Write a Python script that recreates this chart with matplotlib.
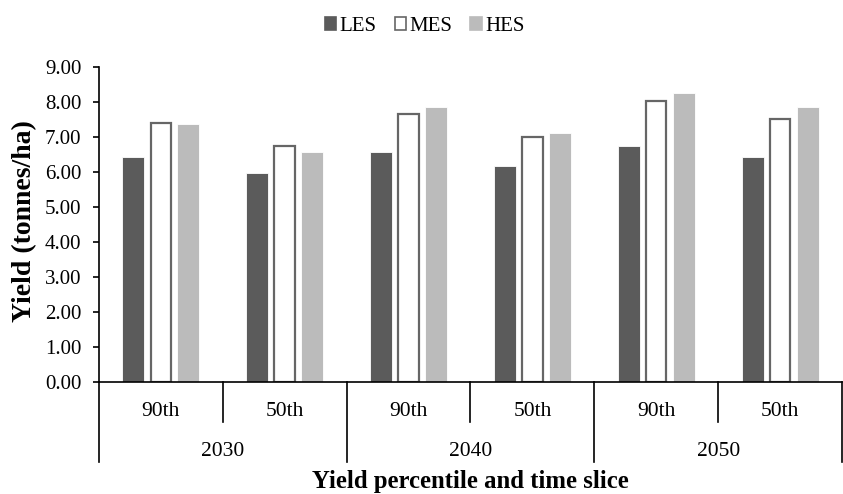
import matplotlib
matplotlib.use("Agg")
import matplotlib.pyplot as plt
import numpy as np
from matplotlib.patches import Patch
from matplotlib.transforms import blended_transform_factory

plt.rcParams['font.family'] = ['Liberation Serif', 'DejaVu Serif']

percentiles = ["90th", "50th", "90th", "50th", "90th", "50th"]
years = ["2030", "2040", "2050"]
series_names = ["LES", "MES", "HES"]
les = [6.42, 5.98, 6.56, 6.18, 6.73, 6.44]
mes = [7.39, 6.73, 7.67, 7.00, 8.02, 7.50]
hes = [7.38, 6.56, 7.87, 7.11, 8.27, 7.87]

fig = plt.figure(figsize=(8.43, 4.94), dpi=100)
ax = fig.add_axes([0.1174, 0.2267, 0.8814, 0.6377])

x = np.arange(len(percentiles))
step = 0.222
width = 0.178
styles = [
    dict(color="#5b5b5b", edgecolor="white", linewidth=0.6),
    dict(color="white", edgecolor="#666666", linewidth=1.6),
    dict(color="#bbbbbb", edgecolor="white", linewidth=0.6),
]
for i, (vals, st) in enumerate(zip([les, mes, hes], styles)):
    ax.bar(x + (i - 1) * step, vals, width=width * (0.93 if i == 1 else 1.0), **st)

ax.set_xlim(-0.5, len(percentiles) - 0.5)
ax.set_ylim(0, 9)
yt = np.arange(0, 9.01, 1)
ax.set_yticks(yt)
ax.set_yticklabels([f"{v:.2f}" for v in yt], fontsize=15)
ax.tick_params(axis="y", direction="out", length=4, width=1.2, pad=8.5)
ax.set_xticks([])
for s in ["top", "right"]:
    ax.spines[s].set_visible(False)
ax.spines["left"].set_linewidth(1.2)
ax.spines["bottom"].set_linewidth(1.2)

trans = blended_transform_factory(ax.transData, ax.transAxes)
# two-level category axis: separators, percentile row, year row
for b in np.arange(-0.5, len(percentiles), 1.0):
    long_line = int(round(b + 0.5)) % 2 == 0
    y_end = -0.254 if long_line else -0.127
    ax.plot([b, b], [0, y_end], color="black", lw=1.2, transform=trans, clip_on=False)
for xi, lab in zip(x, percentiles):
    ax.text(xi, -0.108, lab, transform=trans, ha="center", va="baseline", fontsize=15.5)
for j, yr in enumerate(years):
    ax.text(2 * j + 0.5, -0.235, yr, transform=trans, ha="center", va="baseline", fontsize=15.5)

ax.text(0.5, -0.335, "Yield percentile and time slice", transform=ax.transAxes,
        ha="center", va="baseline", fontsize=17.8, fontweight="bold")
fig.text(25 / 843, 1 - 221.5 / 494, "Yield (tonnes/ha)", rotation=90,
         ha="center", va="center", fontsize=20, fontweight="bold")

handles = [Patch(facecolor=st["color"], edgecolor=("#666666" if i == 1 else st["color"]),
                 linewidth=1.2) for i, st in enumerate(styles)]
fig.legend(handles, series_names, loc="upper center", bbox_to_anchor=(0.5036, 1.0),
           ncol=3, frameon=False, fontsize=15, handlelength=0.56, handleheight=0.56,
           handletextpad=0.15, columnspacing=0.87, borderpad=0.3)

fig.savefig("out.png", dpi=100)
